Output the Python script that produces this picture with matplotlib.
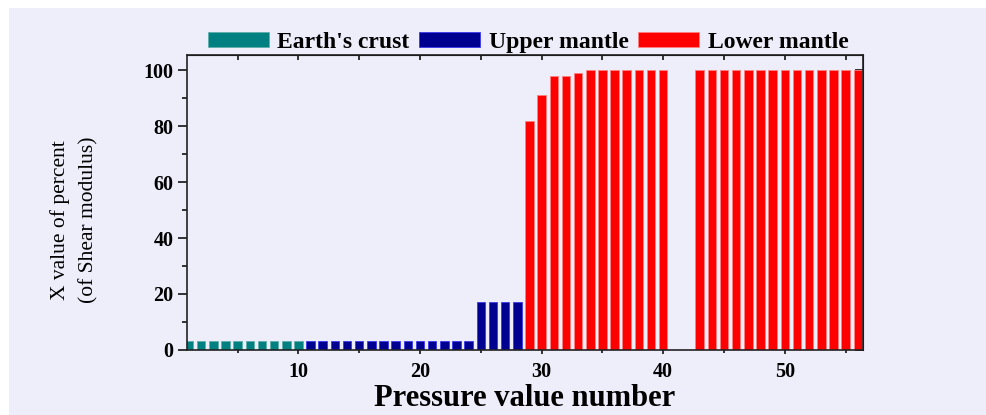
import matplotlib
matplotlib.use("Agg")
import matplotlib.pyplot as plt
from matplotlib.patches import Rectangle
from matplotlib.ticker import MultipleLocator

# values
crust_x = [1, 2, 3, 4, 5, 6, 7, 8, 9, 10]
crust_y = [3, 3, 3, 3, 3, 3, 3, 3, 3, 3]

upper_x = [11, 12, 13, 14, 15, 16, 17, 18, 19, 20, 21, 22, 23, 24, 25, 26, 27, 28]
upper_y = [3, 3, 3, 3, 3, 3, 3, 3, 3, 3, 3, 3, 3, 3, 17, 17, 17, 17]

lower_x = [29, 30, 31, 32, 33, 34, 35, 36, 37, 38, 39, 40,
           43, 44, 45, 46, 47, 48, 49, 50, 51, 52, 53, 54, 55, 56]
lower_y = [82, 91, 98, 98, 99, 100, 100, 100, 100, 100, 100, 100,
           100, 100, 100, 100, 100, 100, 100, 100, 100, 100, 100, 100, 100, 100]

labels = ["Earth's crust", "Upper mantle", "Lower mantle"]

bg = "#EEEEFB"
serif = ["Liberation Serif", "DejaVu Serif"]

fig = plt.figure(figsize=(9.87, 4.15), dpi=100, facecolor="white")
fig.patches.append(Rectangle((9 / 987, 0), 1, 1 - 8 / 415, transform=fig.transFigure,
                             facecolor=bg, edgecolor="none", zorder=-10))

ax = fig.add_axes([0.189, 0.157, 0.685, 0.710])
ax.set_facecolor(bg)

w = 0.7
b1 = ax.bar(crust_x, crust_y, width=w, color="#008080", edgecolor="#5FB0AC", linewidth=0.6, label=labels[0])
b2 = ax.bar(upper_x, upper_y, width=w, color="#000090", edgecolor="#3A3AF0", linewidth=0.6, label=labels[1])
b3 = ax.bar(lower_x, lower_y, width=w, color="#FF0000", edgecolor="#FF8080", linewidth=0.6, label=labels[2])

ax.set_xlim(0.8, 56.4)
ax.set_ylim(0, 105.4)

ax.xaxis.set_major_locator(MultipleLocator(10))
ax.xaxis.set_minor_locator(MultipleLocator(5))
ax.yaxis.set_major_locator(MultipleLocator(20))
ax.yaxis.set_minor_locator(MultipleLocator(10))

for s in ax.spines.values():
    s.set_linewidth(1.2)
    s.set_color("#222222")

ax.tick_params(axis="x", which="major", direction="out", length=3, width=1.1, pad=6)
ax.tick_params(axis="x", which="minor", direction="out", length=2, width=1.1)
ax.tick_params(axis="y", which="major", direction="out", length=6.5, width=1.1, pad=3)
ax.tick_params(axis="y", which="minor", direction="out", length=3.6, width=1.1)

for lab in ax.get_xticklabels() + ax.get_yticklabels():
    lab.set_fontfamily(serif)
    lab.set_fontweight("bold")
    lab.set_fontsize(14.5)

# top and right ticks, pointing inward, no labels
top = ax.secondary_xaxis("top")
top.xaxis.set_major_locator(MultipleLocator(5))
top.tick_params(direction="in", length=3.6, width=1.1, labeltop=False)
right = ax.secondary_yaxis("right")
right.yaxis.set_major_locator(MultipleLocator(10))
right.tick_params(direction="in", length=6, width=1.1, labelright=False)

ax.set_xlabel("Pressure value number", fontfamily=serif, fontweight="bold", fontsize=22, labelpad=1)
fig.text(0.075, 0.47, "X value of percent\n(of Shear modulus)", rotation=90, ha="center", va="center",
         fontfamily=serif, fontsize=15.5, linespacing=1.6)

fig.legend(handles=[b1, b2, b3], labels=labels, loc="center", bbox_to_anchor=(0.535, 0.897),
           ncol=3, frameon=False, handlelength=2.6, handleheight=0.6, handletextpad=0.35,
           columnspacing=0.4, prop={"family": serif, "weight": "bold", "size": 17})

fig.savefig("out.png", dpi=100, facecolor=fig.get_facecolor())
